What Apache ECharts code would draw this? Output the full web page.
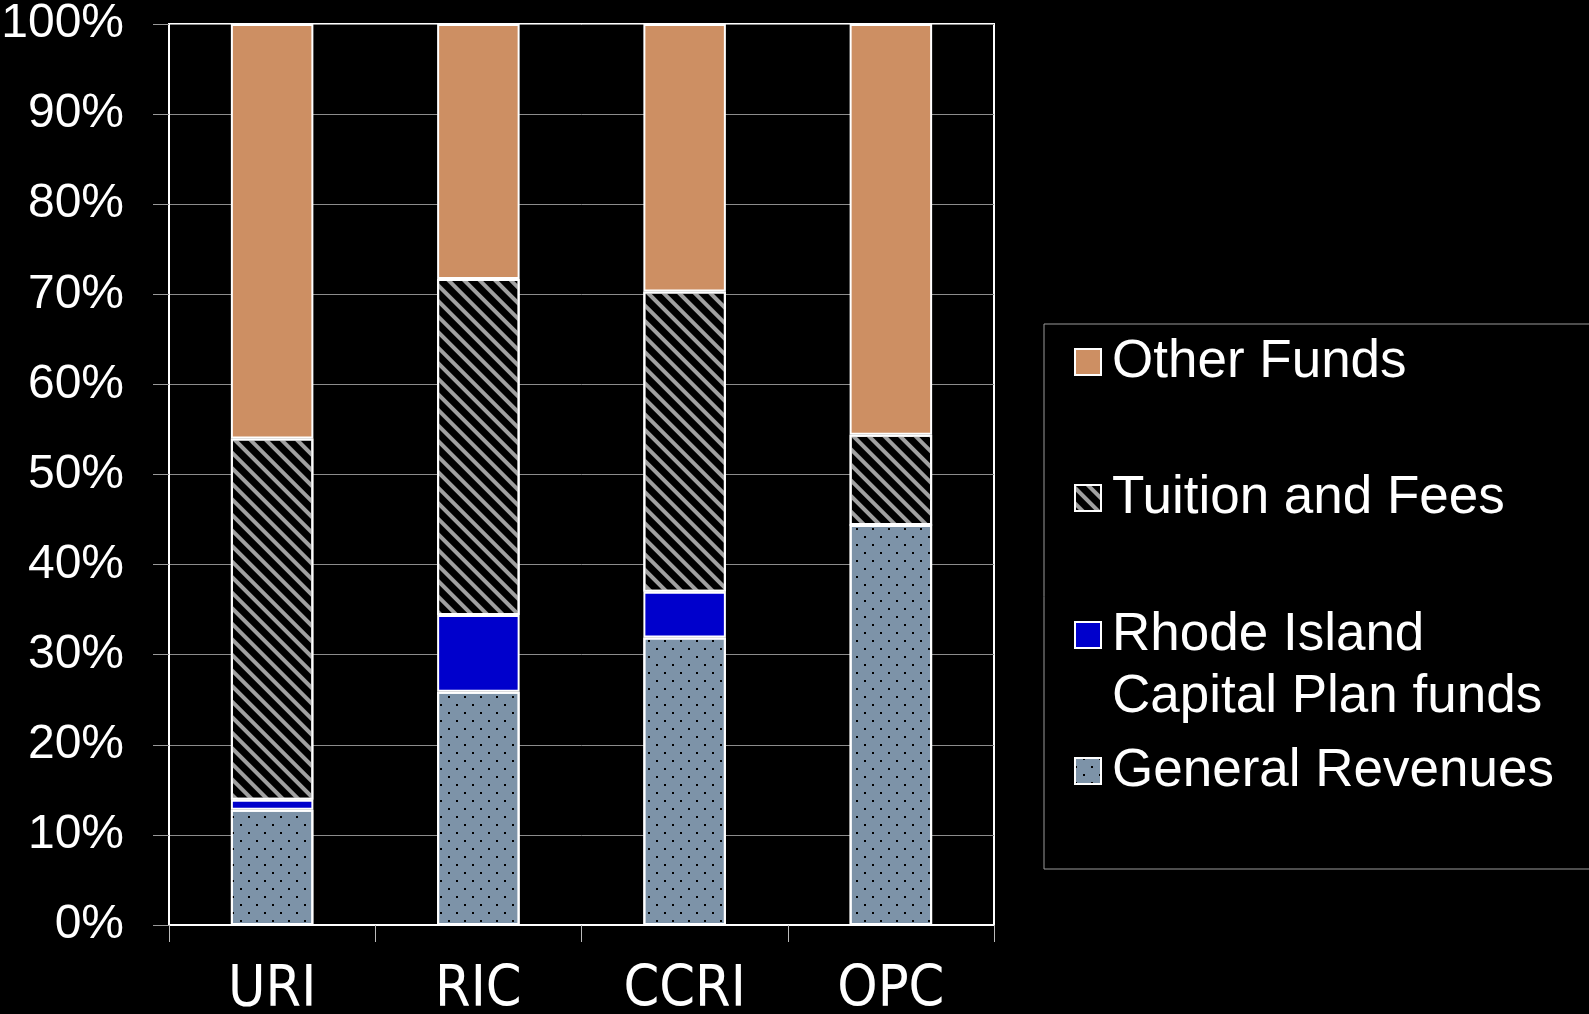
<!DOCTYPE html>
<html>
<head>
<meta charset="utf-8">
<title>Funding sources</title>
<script src="https://cdn.jsdelivr.net/npm/echarts@6/dist/echarts.min.js"></script>
<style>
  html, body { margin: 0; padding: 0; background: #000; }
  #chart { width: 1589px; height: 1014px; }
</style>
</head>
<body>
<div id="chart"></div>
<script>
// categories and stacked shares (percent)
var schools = ['URI', 'RIC', 'CCRI', 'OPC'];
var generalRevenues = [12.8, 25.9, 31.9, 44.4];
var capitalPlan = [1.1, 8.5, 5.1, 0];
var tuitionFees = [40.1, 37.3, 33.3, 10.0];
var otherFunds = [46.0, 28.3, 29.7, 45.6];

var txtFont = "'Liberation Sans', Arial, sans-serif";

// legend: one per entry so the vertical spacing can follow the original
function legendItem(name, top) {
	return {
		data: [name],
		left: 1074,
		top: top,
		padding: 0,
		orient: 'vertical',
		icon: 'rect',
		itemWidth: 26,
		itemHeight: 26,
		selectedMode: false,
		itemStyle: { borderColor: '#fff', borderWidth: 2 },
		textStyle: {
			color: '#fff',
			fontSize: 53,
			fontFamily: txtFont,
			lineHeight: 62,
			padding: [0, 0, 0, 6]
		},
		formatter: function (n) {
			// blank first line keeps the marker next to "Rhode Island"
			return n === 'Rhode Island Capital Plan funds' ? ' \nRhode Island\nCapital Plan funds' : n;
		}
	};
}

var option = {
	backgroundColor: '#000',
	animation: false,
	grid: {
		left: 169,
		top: 24,
		right: 595,
		bottom: 89,
		outerBoundsMode: 'none',
		show: true,
		backgroundColor: '#000',
		borderColor: '#fff',
		borderWidth: 2
	},
	legend: [
		legendItem('Other Funds', 331),
		legendItem('Tuition and Fees', 467),
		legendItem('Rhode Island Capital Plan funds', 542),
		legendItem('General Revenues', 740)
	],
	graphic: [{
		type: 'rect',
		shape: { x: 1044, y: 324, width: 600, height: 545 },
		style: { fill: null, stroke: '#9a9a9a', lineWidth: 1 },
		silent: true
	}],
	xAxis: {
		type: 'category',
		data: schools,
		axisLine: { lineStyle: { color: '#fff', width: 2 } },
		axisTick: { show: true, length: 17, lineStyle: { color: '#bbb', width: 1 } },
		axisLabel: {
			color: '#fff',
			fontSize: 57,
			fontFamily: "'Liberation Sans Narrow', 'DejaVu Sans Condensed', 'Liberation Sans', sans-serif",
			margin: 38
		}
	},
	yAxis: {
		type: 'value',
		min: 0,
		max: 100,
		interval: 10,
		axisLine: { show: true, lineStyle: { color: '#fff', width: 2 } },
		axisTick: { show: true, length: 16, lineStyle: { color: '#999', width: 1 } },
		splitLine: { lineStyle: { color: '#8c8c8c', width: 1 } },
		axisLabel: {
			color: '#fff',
			fontSize: 48,
			fontFamily: txtFont,
			margin: 45,
			formatter: '{value}%'
		}
	},
	series: [
		{
			name: 'General Revenues',
			type: 'bar',
			stack: 'all',
			barWidth: '40%',
			data: generalRevenues,
			itemStyle: {
				color: '#7d93a8',
				borderColor: '#fff',
				borderWidth: 2,
				decal: {
					symbol: 'rect',
					symbolSize: 1,
					color: '#000',
					dashArrayX: [[2, 14], [0, 8, 2, 6]],
					dashArrayY: [2, 6]
				}
			}
		},
		{
			name: 'Rhode Island Capital Plan funds',
			type: 'bar',
			stack: 'all',
			data: capitalPlan,
			itemStyle: { color: '#0000cc', borderColor: '#fff', borderWidth: 2 }
		},
		{
			name: 'Tuition and Fees',
			type: 'bar',
			stack: 'all',
			data: tuitionFees,
			itemStyle: {
				color: '#000',
				borderColor: '#fff',
				borderWidth: 2,
				decal: {
					symbol: 'rect',
					symbolSize: 1,
					color: '#a0a0a0',
					dashArrayX: [1, 0],
					dashArrayY: [4, 7],
					rotation: Math.PI / 4
				}
			}
		},
		{
			name: 'Other Funds',
			type: 'bar',
			stack: 'all',
			data: otherFunds,
			itemStyle: { color: '#cd8f63', borderColor: '#fff', borderWidth: 2 }
		}
	]
};

var chart = echarts.init(document.getElementById('chart'));
chart.setOption(option);
window.onresize = chart.resize;
</script>
</body>
</html>
